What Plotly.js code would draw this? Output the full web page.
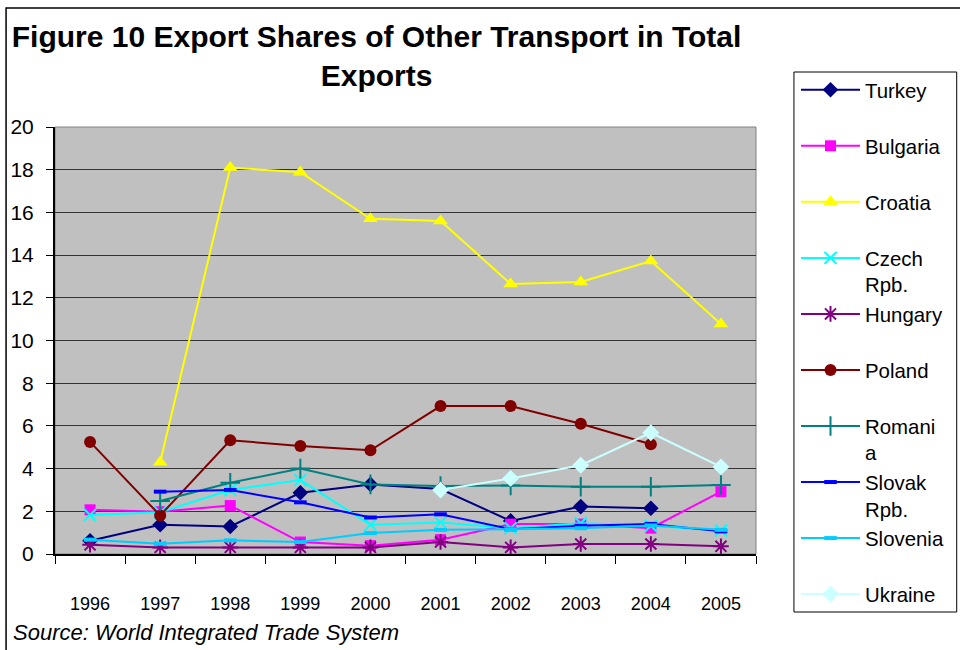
<!DOCTYPE html>
<html>
<head>
<meta charset="utf-8">
<script src="https://cdn.plot.ly/plotly-3.0.1.min.js"></script>
<style>html,body{margin:0;padding:0;background:#fff;}#chart{width:960px;height:650px;}</style>
</head>
<body>
<div id="chart"></div>
<script>
const years = ["1996","1997","1998","1999","2000","2001","2002","2003","2004","2005"];
const turkey   = [0.62, 1.37, 1.29, 2.87, 3.26, 3.04, 1.55, 2.22, 2.14, null];
const bulgaria = [2.07, 1.98, 2.27, 0.56, 0.39, 0.67, 1.40, 1.40, 1.21, 2.92];
const croatia  = [null, 4.30, 18.1, 17.88, 15.7, 15.6, 12.65, 12.74, 13.72, 10.77];
const czech    = [1.83, 1.95, 3.00, 3.46, 1.37, 1.48, 1.21, 1.44, 1.32, 1.10];
const hungary  = [0.43, 0.31, 0.31, 0.31, 0.31, 0.56, 0.31, 0.47, 0.47, 0.36];
const poland   = [5.25, 1.80, 5.33, 5.06, 4.86, 6.93, 6.93, 6.10, 5.14, null];
const romania  = [null, 2.48, 3.34, 4.00, 3.26, 3.18, 3.21, 3.15, 3.15, 3.23];
const slovak   = [null, 2.92, 3.00, 2.42, 1.71, 1.86, 1.16, 1.32, 1.41, 1.06];
const slovenia = [0.67, 0.48, 0.64, 0.56, 0.98, 1.13, 1.16, 1.21, 1.34, 1.13];
const ukraine  = [null, null, null, null, null, 3.00, 3.54, 4.16, 5.68, 4.08];

const legendNames = ["Turkey","Bulgaria","Croatia","Czech<br>Rpb.","Hungary","Poland","Romani<br>a","Slovak<br>Rpb.","Slovenia","Ukraine"];
const yTicks = [0,2,4,6,8,10,12,14,16,18,20];

const NB = "\u00a0";
function nm(s, last){
  if (s.indexOf("<br>") >= 0) return s;
  return last ? s : s + "<br>" + NB;
}

const series = [
  {y: turkey,   color: "#000080", symbol: "diamond",      size: 12, lw: 0},
  {y: bulgaria, color: "#ff00ff", symbol: "square",       size: 11, lw: 0},
  {y: croatia,  color: "#ffff00", symbol: "triangle-up",  size: 13, lw: 0},
  {y: czech,    color: "#00ffff", symbol: "x-thin",       size: 12, lw: 2},
  {y: hungary,  color: "#800080", symbol: "asterisk",     size: 13, lw: 2},
  {y: poland,   color: "#800000", symbol: "circle",       size: 12, lw: 0},
  {y: romania,  color: "#008080", symbol: "cross-thin",   size: 14, lw: 2},
  {y: slovak,   color: "#0000ff", symbol: "line-ew",      size: 9,  lw: 4},
  {y: slovenia, color: "#00ccff", symbol: "line-ew",      size: 9,  lw: 4},
  {y: ukraine,  color: "#ccffff", symbol: "diamond",      size: 13, lw: 0}
];

const traces = series.map((s, i) => ({
  type: "scatter",
  mode: "lines+markers",
  x: years,
  y: s.y,
  name: nm(legendNames[i], i === series.length - 1),
  line: {color: s.color, width: 2},
  marker: {color: s.color, symbol: s.symbol, size: s.size,
           line: {color: s.color, width: s.lw}},
  connectgaps: false,
  cliponaxis: false
}));

const L = 55, R = 757, T = 127, B = 554, W = 960, H = 650;
const pw = R - L, ph = B - T;
const px = v => (v - L) / pw;
const py = v => (B - v) / ph;

const layout = {
  width: W, height: H,
  margin: {l: L, r: W - R, t: T, b: H - B, pad: 0},
  paper_bgcolor: "#ffffff",
  plot_bgcolor: "#c0c0c0",
  showlegend: true,
  font: {family: "Liberation Sans, Arial, sans-serif", color: "#000"},
  title: {
    text: "<b>Figure 10 Export Shares of Other Transport in Total<br>Exports</b>",
    font: {family: "Liberation Sans, Arial, sans-serif", size: 30, color: "#000"},
    x: px(377), xref: "paper", xanchor: "center",
    y: 1 - 47/H, yref: "container", yanchor: "top"
  },
  xaxis: {
    type: "category",
    range: [-0.5, 9.5],
    tickmode: "array", tickvals: years, ticktext: years,
    tickson: "boundaries",
    ticks: "outside", ticklen: 8, tickcolor: "#000", tickwidth: 1,
    showline: true, linecolor: "#000", linewidth: 2,
    showgrid: false, zeroline: false,
    ticklabelstandoff: 32,
    tickfont: {family: "Liberation Sans Narrow, Liberation Sans, sans-serif", size: 18, color: "#000"},
    fixedrange: true
  },
  yaxis: {
    range: [0, 20],
    tickmode: "array", tickvals: yTicks, ticktext: yTicks.map(String),
    ticks: "outside", ticklen: 7, tickcolor: "#000", tickwidth: 1,
    showline: true, linecolor: "#000", linewidth: 2,
    showgrid: true, gridcolor: "#333333", gridwidth: 1,
    zeroline: false,
    ticklabelstandoff: 8,
    tickfont: {family: "Liberation Sans Narrow, Liberation Sans, sans-serif", size: 21, color: "#000"},
    fixedrange: true
  },
  legend: {
    x: px(796), y: py(70), xanchor: "left", yanchor: "top",
    xref: "paper", yref: "paper",
    bgcolor: "rgba(0,0,0,0)", bordercolor: "#000", borderwidth: 0,
    font: {family: "Liberation Sans, Arial, sans-serif", size: 20.4, color: "#000"},
    valign: "top",
    itemwidth: 59,
    tracegroupgap: 0,
    traceorder: "normal",
    maxheight: 560
  },
  shapes: [
    {type: "rect", xref: "paper", yref: "paper",
     x0: 0, x1: 1, y0: 0, y1: 1,
     line: {color: "#808080", width: 1}, fillcolor: "rgba(0,0,0,0)", layer: "below"},
    {type: "rect", xref: "paper", yref: "paper",
     x0: px(6), x1: px(980), y0: py(670), y1: py(8),
     line: {color: "#000", width: 1.5}, fillcolor: "rgba(0,0,0,0)"},
    {type: "rect", xref: "paper", yref: "paper",
     x0: px(795), x1: px(958), y0: py(612), y1: py(72),
     line: {color: "#000", width: 1}, fillcolor: "#ffffff"}
  ],
  annotations: [
    {text: "<i>Source: World Integrated Trade System</i>",
     xref: "paper", yref: "paper", x: px(11), y: py(632),
     xanchor: "left", yanchor: "middle", showarrow: false,
     font: {family: "Liberation Sans, Arial, sans-serif", size: 22, color: "#000"}}
  ]
};

Plotly.newPlot("chart", traces, layout, {displayModeBar: false, staticPlot: true});
</script>
</body>
</html>
